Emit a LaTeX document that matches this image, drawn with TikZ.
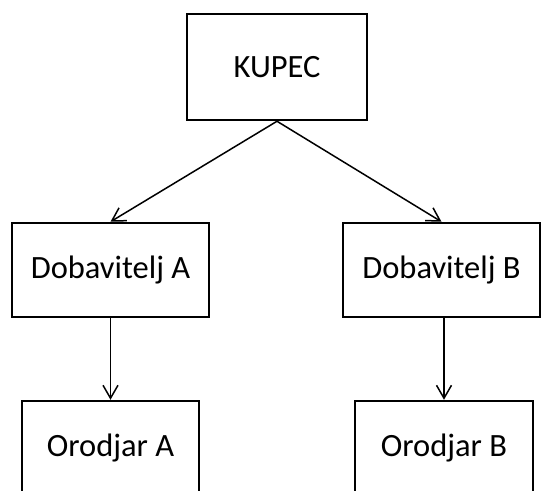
\documentclass[tikz,border=0pt]{standalone}
\usepackage{fontspec}
\setmainfont{Carlito}
\usepackage{tikz}
\usetikzlibrary{arrows.meta, positioning}

\begin{document}
\begin{tikzpicture}[
            x=1pt, y=-1pt,
            block/.style={
                rectangle,
                draw=black,
                line width=2.5pt,
                fill=white,
                minimum width=197pt,
                minimum height=94pt,
                inner sep=0pt,
                font=\fontsize{32.5}{38}\selectfont
            },
            line/.style={
                draw,
                line width=1.5pt,
                -{Straight Barb[length=13pt, width=15pt]}
            }
        ]
            \clip (0,0) rectangle (542,491);

            % --- NODES ---
            \node [block, minimum width=180pt, minimum height=106pt] (kupec) at (277,67) {KUPEC};

            \node [block] (dobavA) at (110.5,270) {Dobavitelj A};
            \node [block] (dobavB) at (441.5,270) {Dobavitelj B};

            \node [block, minimum width=177pt] (orodA) at (110.5,448) {Orodjar A};
            \node [block, minimum width=178pt] (orodB) at (444,448) {Orodjar B};

            % --- LINKS ---
            \path [line] (kupec.south) -- (dobavA.north);
            \path [line] (kupec.south) -- (dobavB.north);
            \path [line] (dobavA.south) -- (orodA.north);
            \path [line] (dobavB.south -| orodB.north) -- (orodB.north);
        \end{tikzpicture}
\end{document}
